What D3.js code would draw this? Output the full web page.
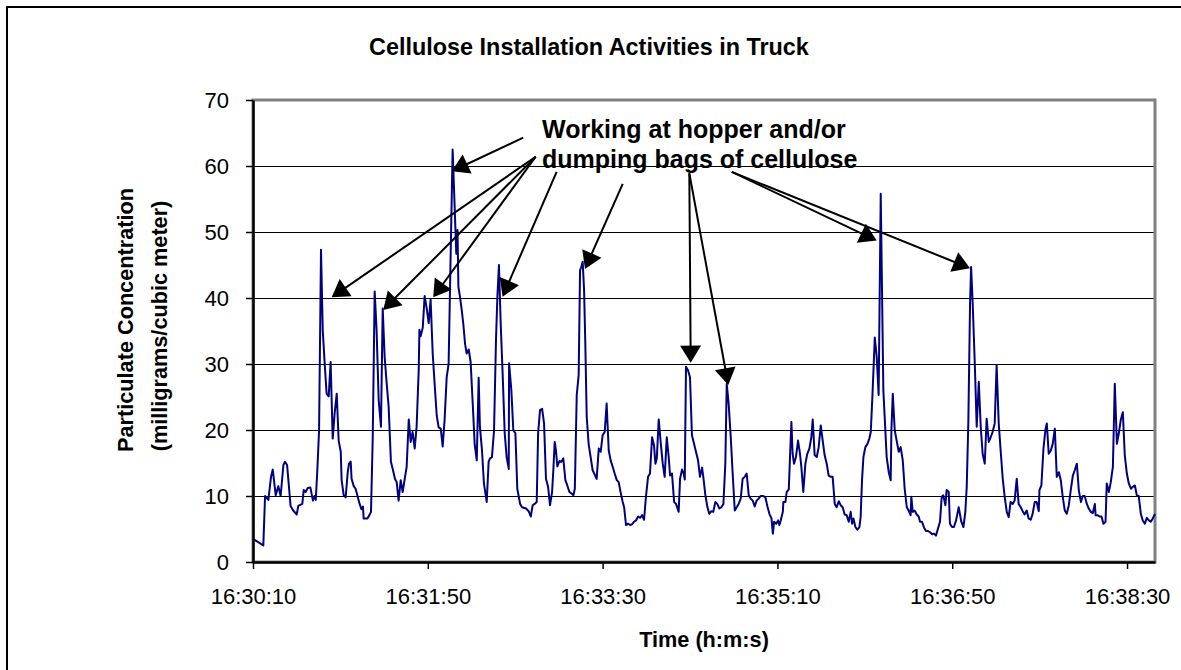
<!DOCTYPE html>
<html>
<head>
<meta charset="utf-8">
<script src="https://cdn.jsdelivr.net/npm/d3@7"></script>
<style>
  body { margin: 0; background: #fff; }
  text { font-family: Arial, "Liberation Sans", sans-serif; }
</style>
</head>
<body>
<div id="chart"></div>
<script>
// seconds after 16:30:10 at each vertex of the trace
const elapsedSec = [
  0,3,5.9,6.9,8.8,10.3,11.3,13,14.5,15.8,
  17.4,18.3,19.5,21.5,23,25,25.9,28.2,29,30.1,
  31.3,32.8,34.3,35.1,35.9,36.8,37.8,38.9,39.9,41,
  42.1,43.3,44.4,45.6,46.7,47.9,49,50.2,50.7,51.9,
  53,54.2,54.9,55.9,56.4,57.6,58.7,59.9,61,62,
  62.9,63.3,65.4,66.6,67.5,68.5,69.6,70.7,71.9,73.2,
  74.2,75.3,76.5,77.6,78.9,80.1,81.2,82.2,83.3,84.5,
  85.6,86.8,87.9,89.1,90.2,91.3,92.5,93.6,94.8,95.2,
  95.9,97.1,98.2,99.4,100.5,101.6,102.8,103.9,105.1,106.2,
  107.4,108.5,109.6,110.8,111.9,114.2,116.3,117,117.5,118.4,
  119.4,120.3,121.3,122.2,123.4,124.5,125.7,126.8,128,129.1,
  129.8,131,132.1,133.7,134.8,135.6,136.7,137.9,139,139.8,
  140.7,141.7,142.8,144,145.1,146.3,146.5,147.8,148.9,150.1,
  151.2,152.8,153.9,156.2,157.7,158.9,160,161.1,162.3,163.1,
  164.2,165.4,166.5,167.6,168.8,169.9,171.1,171.8,172.6,173.3,
  174.1,175.3,176.4,177.5,178.7,179.8,181,182.1,183.3,184.1,
  185.2,186.3,187.1,187.8,188.6,189.4,190.1,190.9,192,194.3,
  196.6,197.8,198.9,200,201.2,202.3,203.5,204.6,205.8,206.9,
  208.1,209.2,210.4,211.5,212.3,213.4,214.6,215.7,216.8,218,
  219.1,220.3,221.4,222.6,223.7,224.8,226,227.1,228.3,229.4,
  230.2,231,232.1,233.2,234.4,235.5,236.7,237.8,238.6,239.7,
  240.9,242,243.5,244.3,245.4,246.2,247,247.7,248.8,250,
  251.1,252.3,253.4,254.6,255.7,256.9,257.6,258.8,259.9,261,
  262.2,263.3,264.5,265.6,266.8,267.9,269.1,270.2,271,272.1,
  273.3,274.4,275.6,276.7,277.8,279,280.1,281.3,282.4,283.6,
  284.7,285.9,287,288.1,289.3,290.4,292,293.1,294.3,295.4,
  296.6,297.4,298.1,299.3,300.4,301.1,301.9,303.1,303.4,304.6,
  305.3,306.5,307.2,308,308.7,309.5,310.6,311.8,312.9,313.7,
  314.8,316,317.1,318.3,319.4,320.2,321.3,322.5,323.6,324.8,
  325.9,327,328.2,329.3,330.5,331.6,332.8,333.9,335.1,336.2,
  337.3,338.5,339.6,340.8,341.9,342.7,343.5,344.6,345.7,346.9,
  347.6,348.4,349.2,350.3,351.5,352.6,353.4,354.4,355.7,356.8,
  357.9,359.1,360.6,362.5,363.7,364.8,365.2,366,367.1,368.2,
  369.4,370.5,371.7,372.8,374,375.1,376.2,376.6,377.4,378.5,
  379.7,380.8,381.6,382.7,383.9,385,386.2,387.3,388.5,389.6,
  390.7,391.9,393,394,394.9,396.1,396.8,398,398.7,399.9,
  401,402.2,403.7,405.2,406.4,407.5,408.3,409.2,410.2,410.8,
  411.7,412.9,414,415.2,416.3,417.4,418.6,419.7,420.9,422,
  423.1,424.3,425.4,426.6,427.7,428.9,430,431.2,432.3,433.4,
  434.6,435.7,436.9,438,439.2,440.3,441.4,442.6,443.7,444.9,
  446,447.2,448.3,449.5,449.9,451,452.2,453.3,454.1,455.2,
  456.4,457.5,458.7,459.8,461,462.1,463.2,464.4,465.5,466.7,
  467.8,469,470.1,471.3,472.4,473.6,474.7,475.8,477,478.1,
  479.3,480.4,481.6,482,483.1,484.2,485.4,486.5,487.7,488.4,
  489.6,490.7,491.9,493,494.2,495.3,496.4,497.6,498.7,499.9,
  501,502.2,503.3,504.5,505.6,506.7,507.9,509,510.2,511.3,
  512.5,513.6,514.7,516
];

// particulate concentration (mg/m3) at the same vertices
const concentration = [
  3.5,3.0,2.5,10.0,9.4,12.9,14.0,10.1,11.5,10.0,
  14.7,15.2,14.7,8.5,7.8,7.2,8.5,8.8,10.9,10.6,
  11.2,11.3,9.3,10.0,9.4,13.9,20.0,47.3,35.1,30.1,
  25.5,25.1,30.3,18.7,22.5,25.5,18.4,16.7,12.4,10.1,
  9.8,13.6,14.9,15.2,12.6,11.5,11.1,9.9,8.8,8.0,
  8.4,6.6,6.6,7.1,7.6,18.9,41.0,35.1,24.5,20.5,
  38.4,31.1,27.0,23.5,15.2,13.9,12.6,12.1,9.3,12.4,
  10.6,12.6,14.4,21.6,18.2,19.7,17.2,20.5,29.1,35.2,
  34.2,35.5,40.3,38.4,36.2,39.8,31.6,27.0,22.2,20.4,
  20.2,17.5,21.5,28.0,30.0,62.5,46.7,50.3,41.7,40.2,
  38.2,36.1,33.1,31.6,32.2,30.3,24.0,17.9,15.4,27.9,
  20.5,16.9,11.9,9.1,15.2,15.7,15.9,20.0,33.6,40.2,
  45.0,36.1,28.6,19.5,15.9,14.1,30.1,26.0,20.0,19.5,
  11.1,8.8,8.3,8.1,7.7,6.9,8.6,8.8,9.1,19.5,
  23.0,23.2,21.0,12.6,11.4,8.6,10.6,13.9,18.2,16.9,
  14.5,15.3,15.2,15.7,12.4,11.6,10.6,10.4,10.1,11.1,
  25.3,28.3,44.2,44.7,45.5,41.2,33.1,22.0,17.9,13.9,
  12.6,17.2,16.7,19.2,19.7,24.0,16.9,15.4,14.4,13.4,
  12.4,12.1,10.4,9.1,8.3,5.6,5.8,5.6,5.7,6.1,
  6.3,6.9,6.7,7.1,6.4,9.9,12.9,13.4,18.9,17.7,
  14.9,15.7,21.6,18.2,14.9,12.9,18.9,15.9,13.1,13.4,
  9.1,8.8,7.6,12.6,14.0,13.6,12.5,29.6,29.1,28.0,
  19.2,17.9,16.7,15.4,12.9,14.3,12.9,10.1,8.4,7.3,
  7.7,7.6,9.1,8.8,8.1,8.3,8.8,14.9,27.0,24.0,
  18.9,13.4,7.8,8.3,8.8,9.6,12.6,12.9,13.4,10.1,
  9.6,9.3,8.4,9.3,9.6,10.0,10.0,9.8,8.4,7.3,
  6.6,4.3,6.1,5.8,6.3,5.6,6.3,7.6,9.1,9.1,
  10.6,11.0,15.9,21.2,16.4,14.9,15.9,18.4,16.4,14.4,
  10.6,14.9,16.4,17.2,18.9,21.6,16.2,15.9,17.4,20.7,
  18.4,16.2,14.9,13.1,12.9,12.9,8.8,8.3,9.2,8.6,
  8.3,7.2,7.1,6.1,7.6,5.8,6.6,5.3,4.9,5.3,
  6.8,12.4,15.9,17.4,17.9,18.7,19.7,25.5,34.0,31.1,
  25.3,55.8,26.0,15.9,13.6,12.4,20.0,25.5,20.0,18.4,
  16.7,17.4,15.4,11.1,8.3,7.8,7.1,9.9,7.6,7.8,
  7.2,6.9,6.1,6.1,5.2,4.7,4.7,4.5,4.2,4.3,
  4.0,5.1,6.1,9.9,10.1,8.6,10.9,10.6,5.8,5.3,
  5.3,6.3,8.3,6.1,5.3,7.6,11.4,21.0,39.2,44.7,
  39.2,30.1,20.5,27.3,20.5,16.4,14.9,21.7,18.2,18.9,
  19.7,21.0,29.8,21.0,16.9,12.6,9.9,7.6,6.8,9.1,
  8.8,9.3,12.6,8.8,8.3,7.7,7.2,7.8,6.6,6.4,
  7.3,9.1,9.1,7.7,10.9,11.6,17.2,20.0,21.0,16.4,
  16.9,17.9,20.2,12.9,13.6,12.4,9.9,7.8,7.3,8.6,
  10.9,13.1,13.9,14.9,10.9,9.1,10.0,10.0,8.8,8.1,
  7.6,7.4,8.8,7.1,7.1,6.9,6.9,5.8,6.1,11.9,
  10.6,12.1,14.4,27.0,17.9,19.5,21.5,22.7,16.2,13.4,
  11.9,11.1,11.4,11.6,10.1,10.0,7.3,6.3,5.8,6.7,
  6.3,6.1,6.6,7.3
];

const xTickSec = [0, 100, 200, 300, 400, 500];
const yTicks = [0, 10, 20, 30, 40, 50, 60, 70];
const noteLines = ["Working at hopper and/or", "dumping bags of cellulose"];

// annotation arrows, in data units (seconds, mg/m3): from the note to each peak
const arrowFromSec = [161.7, 161.7, 161.7, 154.6, 173.7, 211.5, 249.6, 249.6, 273.9, 273.9];
const arrowFromVal = [61.4, 61.4, 61.4, 64.3, 59.1, 57.3, 58.9, 58.9, 59.1, 59.1];
const arrowToSec   = [45, 74.5, 103.1, 113.7, 142.8, 189.9, 250.4, 271.9, 356.8, 410.2];
const arrowToVal   = [40.1, 38.2, 40.1, 59.2, 40.2, 44.4, 30.2, 26.8, 48.7, 44.5];

const W = 1181, H = 670;
const plot = { left: 253, top: 100, right: 1155, bottom: 562 };
const startTime = new Date(2000, 0, 1, 16, 30, 10);
const toTime = s => new Date(startTime.getTime() + s * 1000);

const svg = d3.select("#chart").append("svg")
  .attr("width", W)
  .attr("height", H);

// outer chart frame (runs off the right/bottom of the picture)
svg.append("rect")
  .attr("x", 7).attr("y", 7)
  .attr("width", 1200).attr("height", 700)
  .attr("fill", "white")
  .attr("stroke", "black")
  .attr("stroke-width", 2);

var x = d3.scaleTime()
  .domain([toTime(0), toTime(516)])
  .range([plot.left, plot.right]);

var y = d3.scaleLinear()
  .domain([0, 70])
  .range([plot.bottom, plot.top]);

// gridlines
svg.append("g")
  .selectAll("line")
  .data(yTicks.filter(v => v > 0 && v < 70))
  .enter()
  .append("line")
  .attr("x1", plot.left)
  .attr("x2", plot.right)
  .attr("y1", d => Math.round(y(d)) + 0.5)
  .attr("y2", d => Math.round(y(d)) + 0.5)
  .attr("stroke", "black")
  .attr("stroke-width", 1);

// plot area border
svg.append("rect")
  .attr("x", plot.left)
  .attr("y", plot.top)
  .attr("width", plot.right - plot.left)
  .attr("height", plot.bottom - plot.top)
  .attr("fill", "none")
  .attr("stroke", "#808080")
  .attr("stroke-width", 3);

// data trace
var line = d3.line()
  .x((d, i) => x(toTime(elapsedSec[i])))
  .y((d, i) => y(concentration[i]));

svg.append("path")
  .datum(concentration)
  .attr("d", line)
  .attr("fill", "none")
  .attr("stroke", "#000080")
  .attr("stroke-width", 2)
  .attr("stroke-linejoin", "round");

// axes
var yAxis = svg.append("g")
  .attr("transform", "translate(" + plot.left + ",0)")
  .call(d3.axisLeft(y).tickValues(yTicks).tickSize(7).tickSizeOuter(0).tickPadding(17));

var xAxis = svg.append("g")
  .attr("transform", "translate(0," + plot.bottom + ")")
  .call(d3.axisBottom(x)
    .tickValues(xTickSec.map(toTime))
    .tickFormat(d3.timeFormat("%H:%M:%S"))
    .tickSize(7).tickSizeOuter(0).tickPadding(19));

[yAxis, xAxis].forEach(function(a) {
  a.select(".domain").attr("stroke", "black").attr("stroke-width", 2.5);
  a.selectAll(".tick line").attr("stroke", "black").attr("stroke-width", 1.5);
  a.selectAll(".tick text")
    .attr("fill", "black")
    .style("font-size", "22px")
    .style("font-family", "Arial, 'Liberation Sans', sans-serif");
});

// titles
svg.append("text")
  .attr("x", 589).attr("y", 55)
  .attr("text-anchor", "middle")
  .style("font-size", "23.4px")
  .style("font-weight", "bold")
  .text("Cellulose Installation Activities in Truck");

svg.append("text")
  .attr("x", (plot.left + plot.right) / 2).attr("y", 647)
  .attr("text-anchor", "middle")
  .style("font-size", "21.7px")
  .style("font-weight", "bold")
  .text("Time (h:m:s)");

svg.append("text")
  .attr("transform", "translate(133,320) rotate(-90)")
  .attr("text-anchor", "middle")
  .style("font-size", "21.7px")
  .style("font-weight", "bold")
  .text("Particulate Concentration");

svg.append("text")
  .attr("transform", "translate(167,326) rotate(-90)")
  .attr("text-anchor", "middle")
  .style("font-size", "21.7px")
  .style("font-weight", "bold")
  .text("(milligrams/cubic meter)");

// annotation text
svg.append("g")
  .selectAll("text")
  .data(noteLines)
  .enter()
  .append("text")
  .attr("x", 542)
  .attr("y", (d, i) => 138 + i * 29.5)
  .style("font-size", "25px")
  .style("font-weight", "bold")
  .text(d => d);

// arrows
var headLen = 17, headHalf = 10.5;
var arrows = svg.append("g");
arrowToSec.forEach(function(s, i) {
  var x0 = x(toTime(arrowFromSec[i])), y0 = y(arrowFromVal[i]);
  var x1 = x(toTime(s)), y1 = y(arrowToVal[i]);
  var len = Math.hypot(x1 - x0, y1 - y0);
  var ux = (x1 - x0) / len, uy = (y1 - y0) / len;
  arrows.append("line")
    .attr("x1", x0).attr("y1", y0)
    .attr("x2", x1 - ux * 10).attr("y2", y1 - uy * 10)
    .attr("stroke", "black")
    .attr("stroke-width", 2);
  var bx = x1 - ux * headLen, by = y1 - uy * headLen;
  arrows.append("path")
    .attr("d", "M" + x1 + "," + y1 +
      "L" + (bx - uy * headHalf) + "," + (by + ux * headHalf) +
      "L" + (bx + uy * headHalf) + "," + (by - ux * headHalf) + "Z")
    .attr("fill", "black");
});
</script>
</body>
</html>
